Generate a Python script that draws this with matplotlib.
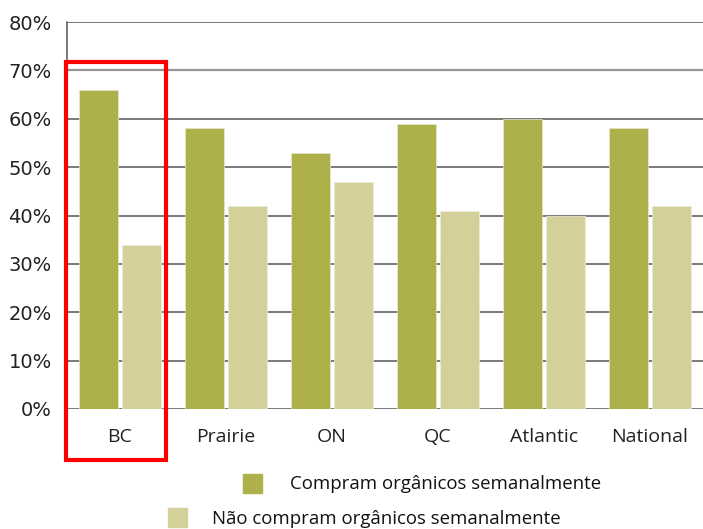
import matplotlib.pyplot as plt
import matplotlib.patches as mpatches
import numpy as np

plt.rcParams['font.family'] = ['Open Sans', 'DejaVu Sans']

regions = ["BC", "Prairie", "ON", "QC", "Atlantic", "National"]
compram = [66, 58, 53, 59, 60, 58]
nao_compram = [34, 42, 47, 41, 40, 42]
yticks = [0, 10, 20, 30, 40, 50, 60, 70, 80]

green = "#aeb04a"
light = "#d3d199"

fig = plt.figure(figsize=(7.03, 5.29), dpi=100)
ax = fig.add_axes([67 / 703, 1 - 409 / 529, 1 - 67 / 703, (409 - 22) / 529])

x = np.arange(len(regions))
w = 0.37
ax.bar(x - w / 2 - 0.02, compram, width=w, color=green, edgecolor="#e8e8d0", linewidth=0.5, zorder=3)
ax.bar(x + w / 2 + 0.02, nao_compram, width=w, color=light, edgecolor="#eeeedd", linewidth=0.5, zorder=3)

ax.set_xlim(-0.5, len(regions) - 0.5)
ax.set_ylim(0, 80)
ax.set_yticks(yticks)
ax.set_yticklabels([f"{v}%" for v in yticks], fontsize=14, color="#222222", family="DejaVu Sans")
ax.set_xticks(x)
ax.set_xticklabels(regions, fontsize=14, color="#222222")
ax.tick_params(axis="y", length=0, pad=11)
ax.tick_params(axis="x", length=0, pad=14)

for v in yticks:
    if v == 70:
        ax.axhline(v, color="#959595", lw=1.6, zorder=1)
    else:
        ax.axhline(v, color="#555555", lw=1.1, zorder=1)

for s in ["top", "right", "bottom"]:
    ax.spines[s].set_visible(False)
ax.spines["left"].set_color("#555555")
ax.spines["left"].set_linewidth(1.1)

# red highlight box round BC
box = mpatches.Rectangle((66 / 703, 1 - 460 / 529), 100 / 703, 398 / 529,
                         transform=fig.transFigure, fill=False,
                         edgecolor="#ff0000", linewidth=3, zorder=10)
fig.patches.append(box)

# legend drawn by hand, one row each
fig.patches.append(mpatches.Rectangle((243 / 703, 1 - 493 / 529), 19 / 703, 19 / 529,
                                      transform=fig.transFigure, color=green))
fig.text(290 / 703, 1 - 484 / 529, "Compram orgânicos semanalmente",
         fontsize=13.4, va="center", color="#111111")
fig.patches.append(mpatches.Rectangle((168 / 703, 1 - 527 / 529), 19 / 703, 19 / 529,
                                      transform=fig.transFigure, color=light))
fig.text(212 / 703, 1 - 519 / 529, "Não compram orgânicos semanalmente",
         fontsize=13.4, va="center", color="#111111")

fig.savefig("out.png", dpi=100)
